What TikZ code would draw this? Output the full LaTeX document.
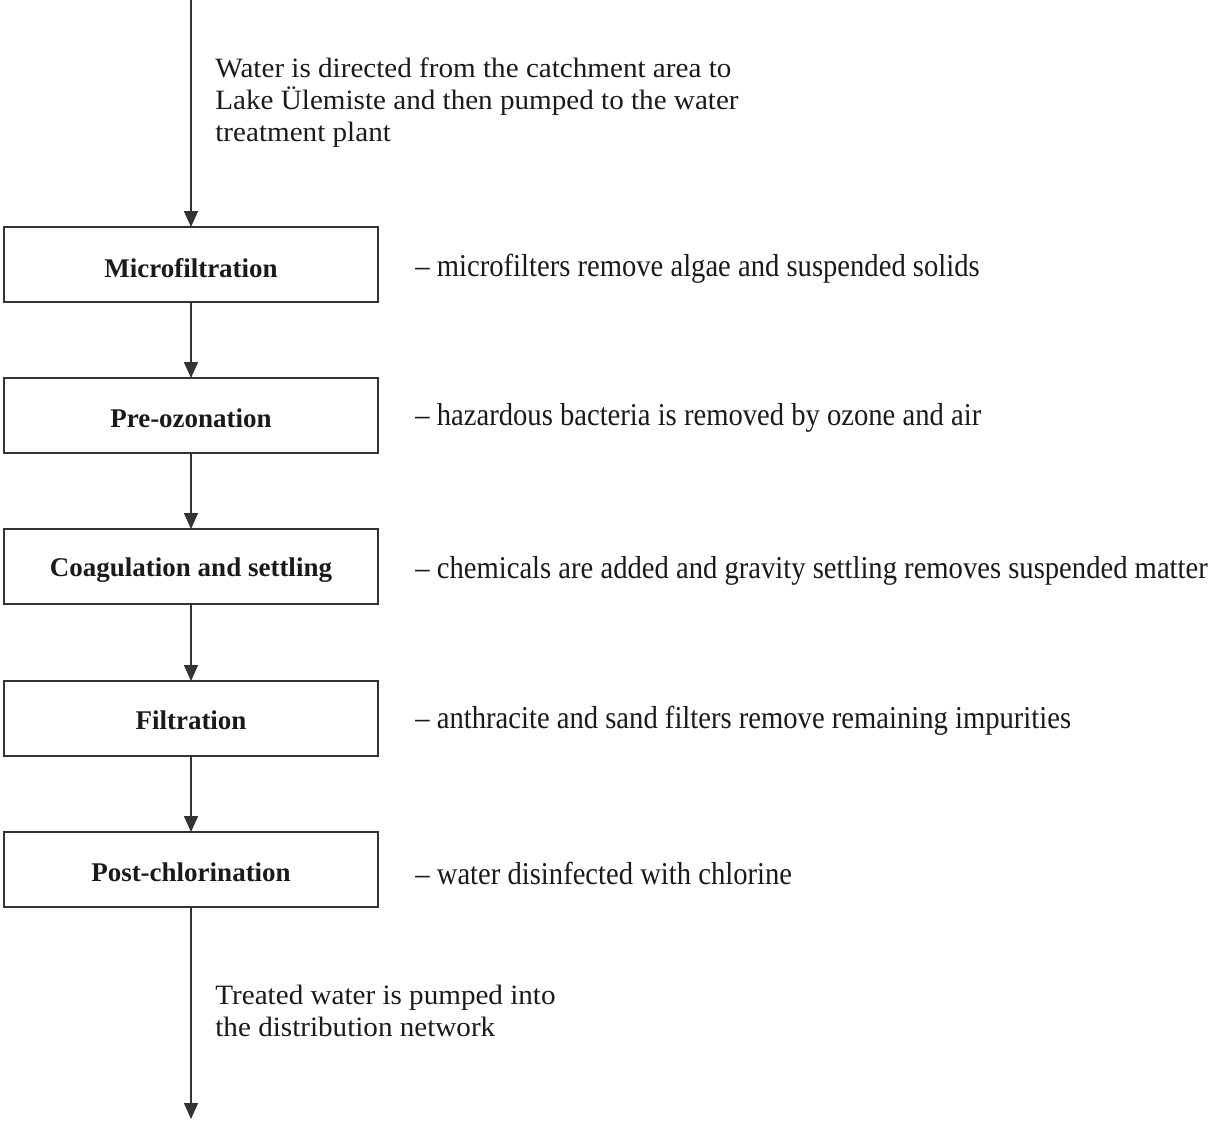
\documentclass[tikz,border=0pt]{standalone}
\usepackage{fontspec}
\setmainfont{Liberation Serif}
\newfontfamily\condfont[FakeStretch=0.9]{Liberation Serif}
\newfontfamily\widefont[FakeStretch=1.04]{Liberation Serif}
\usetikzlibrary{arrows.meta}
\definecolor{linec}{HTML}{333333}
\definecolor{textc}{HTML}{1A1A1A}
\tikzset{
  stepbox/.style={draw=linec, line width=0.75pt, minimum width=187pt, minimum height=37.5pt, inner sep=0pt, outer sep=0pt, text=textc},
  boxlabel/.style={inner sep=0pt, font=\fontsize{13.5}{15}\selectfont\bfseries, text=textc},
  sidetext/.style={anchor=west, inner sep=0pt, font=\condfont\fontsize{15.9}{18}\selectfont, text=textc},
  flowtext/.style={anchor=west, inner sep=0pt, align=left, font=\widefont\fontsize{14}{16}\selectfont, text=textc},
  arr/.style={draw=linec, line width=0.75pt, -{Triangle[width=7pt,length=8pt]}}
}
\begin{document}
\begin{tikzpicture}[x=0.5pt,y=-0.5pt]
\useasboundingbox (0,0) rectangle (1213,1120);
\coordinate (top) at (191,0);
\coordinate (bot) at (191,1119);
\node[stepbox] (b1) at (191,264.5) {};
\node[stepbox] (b2) at (191,415.5) {};
\node[stepbox] (b3) at (191,566.5) {};
\node[stepbox] (b4) at (191,718.5) {};
\node[stepbox] (b5) at (191,869.5) {};
\node[boxlabel] (l1) at (191,268) {Microfiltration};
\node[boxlabel] (l2) at (191,418) {Pre-ozonation};
\node[boxlabel] (l3) at (191,570) {Coagulation and settling};
\node[boxlabel] (l4) at (191,720) {Filtration};
\node[boxlabel] (l5) at (191,872) {Post-chlorination};
\node[sidetext] (s1) at (415,269) {– microfilters remove algae and suspended solids};
\node[sidetext] (s2) at (415,418) {– hazardous bacteria is removed by ozone and air};
\node[sidetext] (s3) at (415,571) {– chemicals are added and gravity settling removes suspended matter};
\node[sidetext] (s4) at (415,721) {– anthracite and sand filters remove remaining impurities};
\node[sidetext] (s5) at (415,873) {– water disinfected with chlorine};
\node[flowtext] (t1) at (215,103) {Water is directed from the catchment area to\\Lake Ülemiste and then pumped to the water\\treatment plant};
\node[flowtext] (t2) at (215,1011) {Treated water is pumped into\\the distribution network};
\draw[arr] (top) -- (b1.north);
\draw[arr] (b1.south) -- (b2.north);
\draw[arr] (b2.south) -- (b3.north);
\draw[arr] (b3.south) -- (b4.north);
\draw[arr] (b4.south) -- (b5.north);
\draw[arr] (b5.south) -- (bot);
\end{tikzpicture}
\end{document}
